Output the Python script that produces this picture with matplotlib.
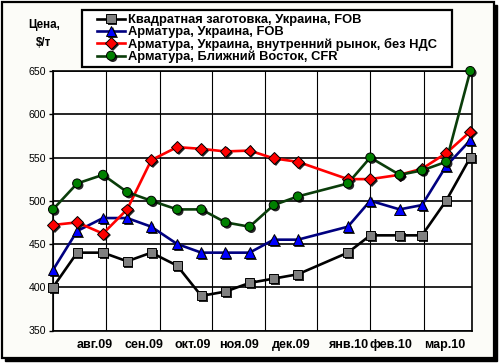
import numpy as np
import matplotlib
matplotlib.use('Agg')
import matplotlib.pyplot as plt
import matplotlib.dates as mdates
import matplotlib.patheffects as pe
from matplotlib.patches import Rectangle
from matplotlib.lines import Line2D

plt.rcParams['font.family'] = ['Liberation Sans', 'DejaVu Sans']

# data (biweekly quotes, $/t)
dates = ['2009-07-01', '2009-07-15', '2009-07-30', '2009-08-13', '2009-08-27',
         '2009-09-11', '2009-09-25', '2009-10-09', '2009-10-23', '2009-11-06',
         '2009-11-20', '2009-12-19', '2010-01-01', '2010-01-18', '2010-01-31',
         '2010-02-14', '2010-02-28']
billet_ua = [400, 440, 440, 430, 440, 425, 390, 395, 405, 410, 415, 440, 460, 460, 460, 500, 550]
rebar_ua_fob = [420, 465, 480, 480, 470, 450, 440, 440, 440, 455, 455, 470, 500, 490, 495, 540, 570]
rebar_ua_dom = [472, 475, 462, 490, 547, 562, 560, 557, 558, 549, 545, 525, 525, 530, 537, 555, 580]
rebar_me_cfr = [490, 520, 530, 510, 500, 490, 490, 475, 470, 495, 505, 520, 550, 530, 535, 545, 650]

series_names = ['Квадратная заготовка, Украина, FOB',
                'Арматура, Украина, FOB',
                'Арматура, Украина, внутренний рынок, без НДС',
                'Арматура, Ближний Восток, CFR']
month_labels = ['авг.09', 'сен.09', 'окт.09', 'ноя.09', 'дек.09', 'янв.10', 'фев.10', 'мар.10']
label_dates = ['2009-07-25', '2009-08-23', '2009-09-20', '2009-10-17',
               '2009-11-16', '2009-12-19', '2010-01-13', '2010-02-13']
y_ticks = [350, 400, 450, 500, 550, 600, 650]

# (line colour, marker, marker face, marker size)
styles = [
    ('black', 's', '#808080', 6.5),
    ('#000080', '^', '#0000ff', 7.5),
    ('#ff0000', 'D', '#ff0000', 6.0),
    ('#0a3d0a', 'o', '#008000', 6.5),
]

W, H = 500, 363


def fx(px):
    return px / W


def fy(py):
    return 1 - py / H


fig = plt.figure(figsize=(W / 100, H / 100), dpi=100)
fig.patch.set_facecolor('white')

# outer frame with shadow
fig.patches.append(Rectangle((fx(5), fy(361)), fx(492), 356 / H, transform=fig.transFigure,
                             facecolor='black', edgecolor='black', zorder=-3))
fig.patches.append(Rectangle((fx(2), fy(358)), fx(492), 356 / H, transform=fig.transFigure,
                             facecolor='#fcfcf8', edgecolor='black', linewidth=1.6, zorder=-2))

ax = fig.add_axes([fx(53), fy(330.5), fx(472 - 53), (330.5 - 71) / H])
ax.set_facecolor('white')

x = np.array(dates, dtype='datetime64[D]')
all_series = [billet_ua, rebar_ua_fob, rebar_ua_dom, rebar_me_cfr]
marker_fx = [pe.SimplePatchShadow(offset=(1.3, -1.3), shadow_rgbFace='black', alpha=0.85), pe.Normal()]

for vals, (lc, mk, mf, ms) in zip(all_series, styles):
    ax.plot(x, vals, color=lc, lw=1.9, zorder=3, solid_joinstyle='round')
    ax.plot(x, vals, linestyle='none', marker=mk, markersize=ms, markerfacecolor=mf,
            markeredgecolor='black', markeredgewidth=0.7, zorder=4, clip_on=False,
            path_effects=marker_fx)

ax.set_xlim(np.datetime64('2009-07-01'), np.datetime64('2010-03-01'))
ax.set_ylim(350, 650)
ax.set_yticks(y_ticks)
ax.set_yticklabels([str(v) for v in y_ticks], fontsize=7.6)

ax.xaxis.set_minor_locator(mdates.MonthLocator())
ax.set_xticks(np.array(label_dates, dtype='datetime64[D]'))
ax.set_xticklabels(month_labels, fontsize=9, fontweight='bold')
ax.tick_params(axis='x', which='both', length=0, pad=6)
ax.tick_params(axis='y', length=3, width=1, pad=2, direction='out')

ax.grid(axis='y', which='major', color='black', lw=1.2)
ax.grid(axis='x', which='minor', color='black', lw=0.8)
ax.grid(axis='x', which='major', visible=False)
ax.set_axisbelow(True)
for sp in ax.spines.values():
    sp.set_color('black')
    sp.set_linewidth(1.2)

# legend drawn by hand so the rows sit as tight as in the original
fig.patches.append(Rectangle((fx(82), fy(67)), fx(452 - 82), (67 - 10) / H, transform=fig.transFigure,
                             facecolor='white', edgecolor='black', linewidth=1.6, zorder=-1))
for i, (name, (lc, mk, mf, ms)) in enumerate(zip(series_names, styles)):
    ry = fy(18.5 + 12.4 * i)
    fig.add_artist(Line2D([fx(97), fx(125)], [ry, ry], transform=fig.transFigure, color=lc, lw=1.9))
    fig.add_artist(Line2D([fx(111)], [ry], transform=fig.transFigure, linestyle='none',
                          marker=mk, markersize=ms, markerfacecolor=mf, markeredgecolor='black',
                          markeredgewidth=0.7, path_effects=marker_fx))
    fig.text(fx(128), ry, name, ha='left', va='center_baseline', fontsize=9.3, fontweight='bold')

fig.text(fx(44), fy(34), 'Цена,\n$/т', ha='center', va='center',
         fontsize=8.4, fontweight='bold', linespacing=1.6)

fig.savefig('out.png', dpi=100, facecolor='white')
